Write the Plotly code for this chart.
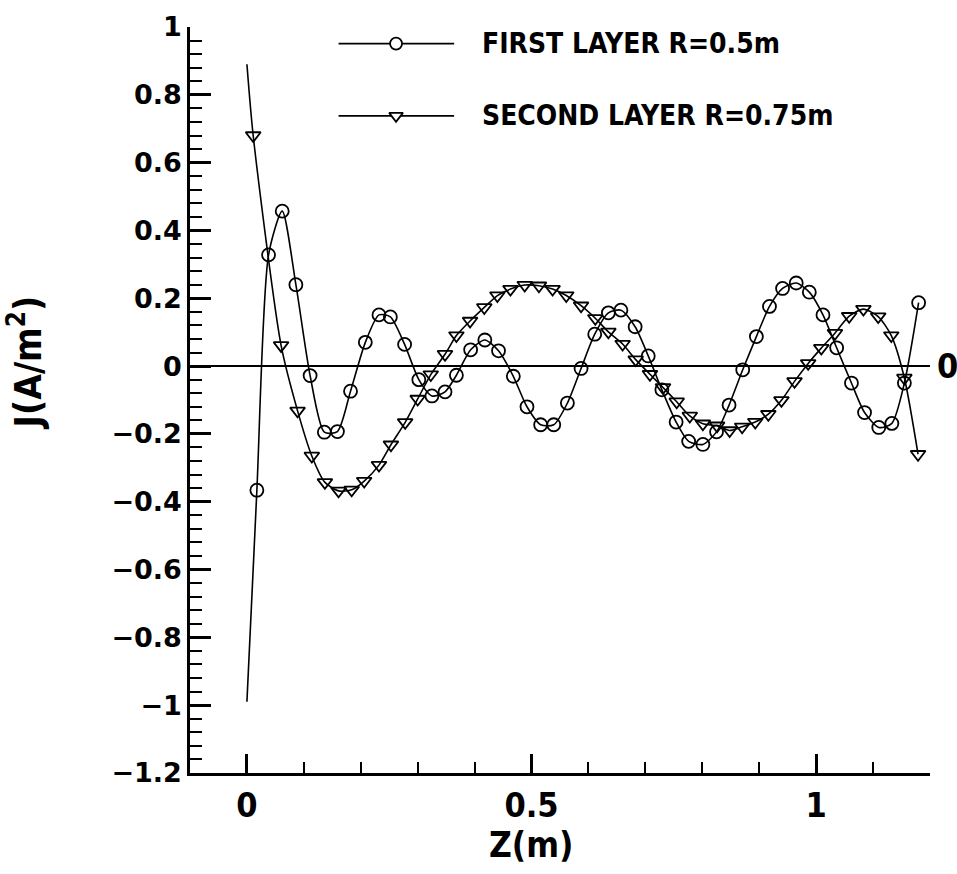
import plotly.graph_objects as go

# ---------------- data ----------------
# FIRST LAYER R=0.5m : curve start point + circle-marked points
z1_start = [0.0]
j1_start = [-0.99]
z1 = [0.0175, 0.038, 0.062, 0.086, 0.111, 0.136, 0.159, 0.182, 0.208, 0.232,
      0.252, 0.277, 0.302, 0.325, 0.348, 0.368, 0.393, 0.418, 0.442, 0.468,
      0.492, 0.516, 0.539, 0.563, 0.587, 0.611, 0.635, 0.657, 0.682, 0.705,
      0.729, 0.754, 0.776, 0.801, 0.825, 0.847, 0.871, 0.895, 0.918, 0.941,
      0.965, 0.988, 1.012, 1.036, 1.062, 1.085, 1.110, 1.133, 1.155, 1.180]
j1 = [-0.366, 0.328, 0.457, 0.240, -0.028, -0.195, -0.193, -0.074, 0.070, 0.151,
      0.145, 0.064, -0.040, -0.088, -0.076, -0.027, 0.048, 0.077, 0.045, -0.030,
      -0.120, -0.173, -0.173, -0.109, -0.007, 0.094, 0.157, 0.165, 0.116, 0.030,
      -0.070, -0.165, -0.222, -0.231, -0.194, -0.115, -0.011, 0.087, 0.176, 0.229,
      0.245, 0.218, 0.151, 0.054, -0.050, -0.137, -0.181, -0.169, -0.050, 0.187]

# SECOND LAYER R=0.75m : curve start point + triangle-marked points
z2_start = [0.0]
j2_start = [0.89]
z2 = [0.011, 0.060, 0.089, 0.114, 0.137, 0.161, 0.184, 0.206, 0.232, 0.253,
      0.278, 0.300, 0.323, 0.348, 0.368, 0.392, 0.417, 0.440, 0.463, 0.488,
      0.513, 0.537, 0.561, 0.587, 0.612, 0.635, 0.660, 0.683, 0.708, 0.731,
      0.755, 0.778, 0.801, 0.826, 0.848, 0.870, 0.893, 0.916, 0.939, 0.962,
      0.986, 1.009, 1.033, 1.058, 1.083, 1.109, 1.132, 1.155, 1.179]
j2 = [0.680, 0.061, -0.132, -0.265, -0.343, -0.368, -0.365, -0.339, -0.292, -0.232,
      -0.166, -0.097, -0.025, 0.035, 0.090, 0.133, 0.173, 0.208, 0.227, 0.239,
      0.237, 0.227, 0.208, 0.178, 0.141, 0.101, 0.065, 0.019, -0.024, -0.063,
      -0.105, -0.147, -0.170, -0.176, -0.190, -0.179, -0.165, -0.142, -0.101, -0.045,
      0.008, 0.053, 0.097, 0.147, 0.168, 0.146, 0.090, -0.035, -0.260]

series_names = ["FIRST LAYER R=0.5m", "SECOND LAYER R=0.75m"]
x_ticks = [0, 0.5, 1]
x_tick_labels = ["0", "0.5", "1"]
y_ticks = [1, 0.8, 0.6, 0.4, 0.2, 0, -0.2, -0.4, -0.6, -0.8, -1, -1.2]
y_tick_labels = ["1", "0.8", "0.6", "0.4", "0.2", "0", "\u22120.2", "\u22120.4",
                 "\u22120.6", "\u22120.8", "\u22121", "\u22121.2"]

# ---------------- style ----------------
NARROW = ("Noto Sans Condensed, DejaVu Sans Condensed, Liberation Sans Narrow, "
          "Arial Narrow, Roboto, sans-serif")
WIDE = "DejaVu Sans, Liberation Sans, Arial"
LW = 1.6
MS = 13
MLW = 1.8

fig = go.Figure()

def add_series(zs, js, z, j, symbol):
    fig.add_trace(go.Scatter(x=zs + z, y=js + j, mode="lines",
                             line=dict(color="black", width=LW, shape="spline", smoothing=0.7),
                             showlegend=False, hoverinfo="skip"))
    fig.add_trace(go.Scatter(x=z, y=j, mode="markers",
                             marker=dict(symbol=symbol, size=MS, color="rgba(0,0,0,0)",
                                         line=dict(color="black", width=MLW)),
                             showlegend=False))

add_series(z1_start, j1_start, z1, j1, "circle")
add_series(z2_start, j2_start, z2, j2, "triangle-down")

# ---------------- custom legend (layout constants) ----------------
leg_x0, leg_x1, leg_xm = 0.161, 0.364, 0.262
leg_rows = [0.951, 0.738]
leg_syms = ["circle", "triangle-down"]
for name, yy, sym in zip(series_names, leg_rows, leg_syms):
    fig.add_trace(go.Scatter(x=[leg_x0, leg_x1], y=[yy, yy], mode="lines",
                             line=dict(color="black", width=LW), showlegend=False,
                             hoverinfo="skip", cliponaxis=False))
    fig.add_trace(go.Scatter(x=[leg_xm], y=[yy], mode="markers",
                             marker=dict(symbol=sym, size=12, color="white",
                                         line=dict(color="black", width=MLW)),
                             showlegend=False, hoverinfo="skip", cliponaxis=False))
    fig.add_annotation(x=0.41, y=yy, xref="x", yref="y", text=name, showarrow=False,
                       xanchor="left", yanchor="middle",
                       font=dict(family=NARROW, size=28, color="black", weight="bold"))

# zero label at the right end
fig.add_annotation(x=1.0, y=0, xref="paper", yref="y", text="0", showarrow=False,
                   xanchor="left", yanchor="middle", xshift=5,
                   font=dict(family=NARROW, size=34, color="black", weight="bold"))
# axis titles
fig.add_annotation(x=-0.222, y=0.55, xref="paper", yref="paper",
                   text="J(A/m<sup>2</sup>)", showarrow=False, textangle=-90,
                   xanchor="center", yanchor="middle",
                   font=dict(family=NARROW, size=37, color="black", weight="bold"))
fig.add_annotation(x=0.461, y=-0.097, xref="paper", yref="paper",
                   text="Z(m)", showarrow=False, xanchor="center", yanchor="middle",
                   font=dict(family=NARROW, size=35, color="black", weight="bold"))

fig.update_xaxes(range=[-0.1, 1.2], showgrid=False, zeroline=False,
                 showline=True, linecolor="black", linewidth=2.5,
                 ticks="inside", ticklen=19, tickwidth=2.5, tickcolor="black",
                 tickvals=x_ticks, ticktext=x_tick_labels,
                 tickfont=dict(family=NARROW, size=34, color="black", weight="bold"),
                 minor=dict(dtick=0.1, tick0=0, ticks="inside", ticklen=11,
                            tickwidth=2, tickcolor="black", showgrid=False))
fig.update_yaxes(range=[-1.2, 1.0], showgrid=False,
                 zeroline=True, zerolinecolor="black", zerolinewidth=1.6,
                 showline=True, linecolor="black", linewidth=2.5,
                 ticks="inside", ticklen=21, tickwidth=2.5, tickcolor="black",
                 tickvals=y_ticks, ticktext=y_tick_labels,
                 tickfont=dict(family=WIDE, size=27, color="black", weight="bold"),
                 minor=dict(dtick=0.04, tick0=0, ticks="inside", ticklen=12,
                            tickwidth=2, tickcolor="black", showgrid=False))

fig.update_layout(width=957, height=874, plot_bgcolor="white", paper_bgcolor="white",
                  margin=dict(l=190, r=27, t=27, b=101), showlegend=False)

fig.write_html("out.html")
